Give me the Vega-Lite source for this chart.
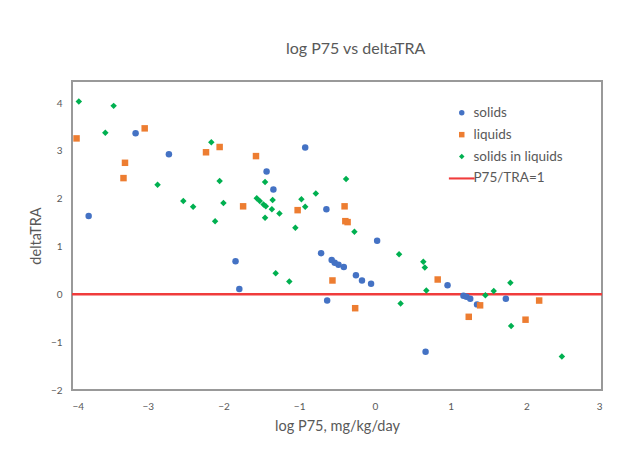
{
  "$schema": "https://vega.github.io/schema/vega-lite/v6.json",
  "autosize": "none",
  "width": 530,
  "height": 309,
  "padding": {"left": 72, "top": 81, "right": 26, "bottom": 60},
  "background": "white",
  "config": {
    "view": {"stroke": "#999999", "strokeWidth": 2},
    "font": "Lato",
    "axis": {"grid": false, "domain": false, "ticks": false, "labelFont": "Lato", "labelFontSize": 10, "labelColor": "#595959", "titleFont": "Lato", "titleFontSize": 14.5, "titleFontWeight": "normal", "titleColor": "#595959"}
  },
  "title": {"text": "log P75 vs deltaTRA", "anchor": "start", "frame": "group", "dx": 214, "fontSize": 16, "font": "Lato", "fontWeight": "normal", "color": "#595959", "offset": 24},
  "data": {"values": [
    {"series": "solids", "x": -3.78, "y": 1.64},
    {"series": "solids", "x": -3.16, "y": 3.37},
    {"series": "solids", "x": -2.72, "y": 2.93},
    {"series": "solids", "x": -1.84, "y": 0.69},
    {"series": "solids", "x": -1.79, "y": 0.11},
    {"series": "solids", "x": -1.43, "y": 2.57},
    {"series": "solids", "x": -1.34, "y": 2.19},
    {"series": "solids", "x": -0.92, "y": 3.07},
    {"series": "solids", "x": -0.64, "y": 1.78},
    {"series": "solids", "x": -0.71, "y": 0.86},
    {"series": "solids", "x": -0.57, "y": 0.72},
    {"series": "solids", "x": -0.53, "y": 0.66},
    {"series": "solids", "x": -0.48, "y": 0.62},
    {"series": "solids", "x": -0.41, "y": 0.57},
    {"series": "solids", "x": -0.25, "y": 0.40},
    {"series": "solids", "x": -0.17, "y": 0.29},
    {"series": "solids", "x": -0.05, "y": 0.22},
    {"series": "solids", "x": 0.03, "y": 1.12},
    {"series": "solids", "x": -0.63, "y": -0.13},
    {"series": "solids", "x": 0.67, "y": -1.20},
    {"series": "solids", "x": 0.96, "y": 0.19},
    {"series": "solids", "x": 1.17, "y": -0.03},
    {"series": "solids", "x": 1.21, "y": -0.05},
    {"series": "solids", "x": 1.26, "y": -0.09},
    {"series": "solids", "x": 1.35, "y": -0.21},
    {"series": "solids", "x": 1.73, "y": -0.09},
    {"series": "liquids", "x": -3.94, "y": 3.26},
    {"series": "liquids", "x": -3.04, "y": 3.47},
    {"series": "liquids", "x": -3.30, "y": 2.75},
    {"series": "liquids", "x": -3.32, "y": 2.43},
    {"series": "liquids", "x": -2.23, "y": 2.97},
    {"series": "liquids", "x": -2.05, "y": 3.08},
    {"series": "liquids", "x": -1.57, "y": 2.89},
    {"series": "liquids", "x": -1.74, "y": 1.84},
    {"series": "liquids", "x": -1.02, "y": 1.76},
    {"series": "liquids", "x": -0.40, "y": 1.84},
    {"series": "liquids", "x": -0.39, "y": 1.53},
    {"series": "liquids", "x": -0.36, "y": 1.51},
    {"series": "liquids", "x": -0.56, "y": 0.29},
    {"series": "liquids", "x": -0.26, "y": -0.29},
    {"series": "liquids", "x": 0.83, "y": 0.31},
    {"series": "liquids", "x": 1.39, "y": -0.23},
    {"series": "liquids", "x": 1.24, "y": -0.47},
    {"series": "liquids", "x": 1.99, "y": -0.53},
    {"series": "liquids", "x": 2.17, "y": -0.13},
    {"series": "solids in liquids", "x": -3.91, "y": 4.03},
    {"series": "solids in liquids", "x": -3.45, "y": 3.94},
    {"series": "solids in liquids", "x": -3.56, "y": 3.38},
    {"series": "solids in liquids", "x": -2.87, "y": 2.29},
    {"series": "solids in liquids", "x": -2.16, "y": 3.18},
    {"series": "solids in liquids", "x": -2.05, "y": 2.37},
    {"series": "solids in liquids", "x": -2.53, "y": 1.95},
    {"series": "solids in liquids", "x": -2.40, "y": 1.83},
    {"series": "solids in liquids", "x": -2.00, "y": 1.91},
    {"series": "solids in liquids", "x": -2.11, "y": 1.53},
    {"series": "solids in liquids", "x": -1.56, "y": 2.01},
    {"series": "solids in liquids", "x": -1.52, "y": 1.95},
    {"series": "solids in liquids", "x": -1.47, "y": 1.88},
    {"series": "solids in liquids", "x": -1.44, "y": 1.84},
    {"series": "solids in liquids", "x": -1.45, "y": 2.35},
    {"series": "solids in liquids", "x": -1.35, "y": 1.97},
    {"series": "solids in liquids", "x": -1.36, "y": 1.78},
    {"series": "solids in liquids", "x": -1.26, "y": 1.69},
    {"series": "solids in liquids", "x": -1.45, "y": 1.60},
    {"series": "solids in liquids", "x": -0.97, "y": 1.99},
    {"series": "solids in liquids", "x": -0.92, "y": 1.83},
    {"series": "solids in liquids", "x": -0.78, "y": 2.11},
    {"series": "solids in liquids", "x": -0.38, "y": 2.41},
    {"series": "solids in liquids", "x": -1.05, "y": 1.39},
    {"series": "solids in liquids", "x": -0.27, "y": 1.31},
    {"series": "solids in liquids", "x": -1.31, "y": 0.44},
    {"series": "solids in liquids", "x": -1.13, "y": 0.27},
    {"series": "solids in liquids", "x": 0.32, "y": 0.84},
    {"series": "solids in liquids", "x": 0.64, "y": 0.68},
    {"series": "solids in liquids", "x": 0.66, "y": 0.56},
    {"series": "solids in liquids", "x": 0.68, "y": 0.08},
    {"series": "solids in liquids", "x": 0.34, "y": -0.19},
    {"series": "solids in liquids", "x": 1.46, "y": -0.02},
    {"series": "solids in liquids", "x": 1.57, "y": 0.07},
    {"series": "solids in liquids", "x": 1.79, "y": 0.24},
    {"series": "solids in liquids", "x": 1.80, "y": -0.66},
    {"series": "solids in liquids", "x": 2.47, "y": -1.30},
    {"series": "P75/TRA=1", "y": 0}
  ]},
  "layer": [
    {
      "transform": [{"filter": "datum.series === 'P75/TRA=1'"}],
      "mark": {"type": "rule", "strokeWidth": 2.5},
      "encoding": {
        "y": {"field": "y", "type": "quantitative"},
        "color": {"field": "series", "type": "nominal"}
      }
    },
    {
      "transform": [{"filter": "datum.series !== 'P75/TRA=1'"}],
      "mark": {"type": "point", "filled": true, "opacity": 1, "size": 42},
      "encoding": {
        "x": {"field": "x", "type": "quantitative", "scale": {"domain": [-4, 3], "nice": false, "zero": false},
          "axis": {"values": [-4, -3, -2, -1, 0, 1, 2, 3], "title": "log P75, mg/kg/day", "labelPadding": 11, "titlePadding": 8}},
        "y": {"field": "y", "type": "quantitative", "scale": {"domain": [-2, 4.46], "nice": false, "zero": false},
          "axis": {"values": [-2, -1, 0, 1, 2, 3, 4], "title": "deltaTRA", "labelPadding": 10, "titlePadding": 7}},
        "color": {"field": "series", "type": "nominal",
          "scale": {"domain": ["solids", "liquids", "solids in liquids", "P75/TRA=1"], "range": ["#4472C4", "#ED7D31", "#00B050", "#F03C3C"]},
          "legend": {"title": null, "orient": "none", "legendX": 383, "legendY": 25, "padding": 0, "labelFont": "Lato", "labelFontSize": 13.5, "labelColor": "#595959", "labelOffset": 5, "rowPadding": 6.9, "symbolSize": 30, "symbolStrokeWidth": 0}},
        "shape": {"field": "series", "type": "nominal",
          "scale": {"domain": ["solids", "liquids", "solids in liquids", "P75/TRA=1"], "range": ["circle", "square", "diamond", "M-4.7,-0.38H4.7V0.38H-4.7Z"]}}
      }
    }
  ]
}
